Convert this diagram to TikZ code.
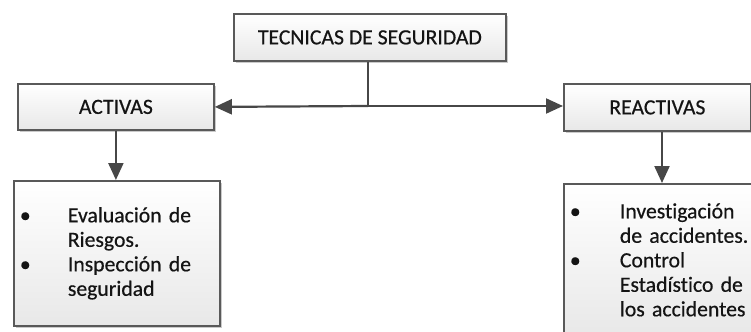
\documentclass[tikz,border=0pt]{standalone}
\usepackage{fontspec}
\setmainfont{Carlito}[Ligatures=NoCommon,FakeBold=0.5]
\usetikzlibrary{arrows.meta,shadows}
\begin{document}
\begin{tikzpicture}[x=0.5pt,y=-0.5pt,
  box/.style={draw=black!65, line width=0.9pt, top color=white, bottom color=black!9,
    drop shadow={shadow xshift=1pt,shadow yshift=-1pt,fill=black!35,opacity=0.6},
    anchor=north west, inner sep=0pt, text=black!92,
    font=\fontsize{10.85}{12.25}\selectfont},
  listbox/.style={box, inner xsep=3pt, align=left},
  conn/.style={draw=black!72, line width=1.1pt},
  arr/.style={conn,-{Triangle[length=8.5pt,width=7.5pt]}}]
\useasboundingbox (0,0) rectangle (751,332);
\clip (0,0) rectangle (751,332);
\node[box, minimum width=136pt, minimum height=23.5pt] (top) at (233,13) {TECNICAS DE SEGURIDAD};
\node[box, minimum width=98pt, minimum height=23pt] (act) at (17,83) {ACTIVAS};
\node[box, minimum width=93.5pt, minimum height=23.5pt] (reac) at (563,83) {REACTIVAS};
\node[listbox, minimum width=103pt, minimum height=72.5pt, text width=97pt] (llist) at (13,180)
  {\makebox[24pt][l]{\textbullet}Evaluación de\\ \hspace*{24pt}Riesgos.\\
   \makebox[24pt][l]{\textbullet}Inspección de\\ \hspace*{24pt}seguridad};
\node[listbox, minimum width=100pt, minimum height=76pt, text width=94pt] (rlist) at (563,183)
  {\makebox[25pt][l]{\textbullet}Investigación\\ \hspace*{25pt}de accidentes.\\
   \makebox[25pt][l]{\textbullet}Control\\ \hspace*{25pt}Estadístico de\\ \hspace*{25pt}los accidentes};
\coordinate (j) at (368,106);
\coordinate (rx) at (662,0);
\draw[conn] (top.south -| j) -- (j);
\draw[arr] (j) -- (act.east);
\draw[arr] (j) -- (j -| reac.west);
\draw[arr] (act.south) -- (act.south |- llist.north);
\draw[arr] (reac.south -| rx) -- (rlist.north -| rx);
\end{tikzpicture}
\end{document}
